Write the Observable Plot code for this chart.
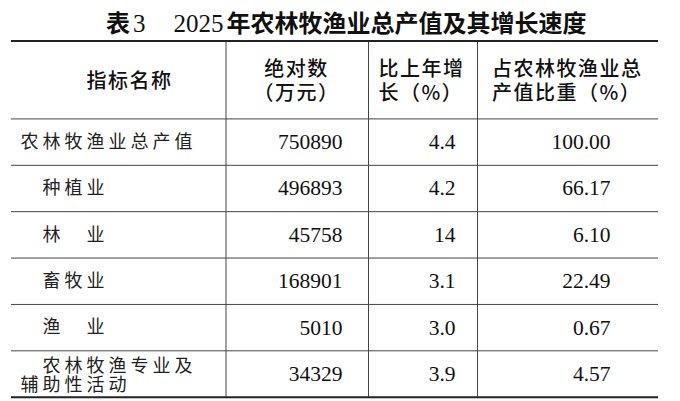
<!DOCTYPE html>
<html><head><meta charset="utf-8">
<script src="https://cdn.jsdelivr.net/npm/d3@7"></script>
<script src="https://cdn.jsdelivr.net/npm/@observablehq/plot@0.6"></script>
<style>
body{margin:0;background:#fff;width:680px;height:401px;overflow:hidden}
#title{height:38px;padding-left:106px;white-space:nowrap;font-family:"Noto Sans CJK SC";font-weight:700;font-size:24px;line-height:44px;color:#111}
#title .n{font-family:"Liberation Serif";font-weight:400;font-size:25px}
</style></head><body>
<div id="title"><span>表</span><span class="n" style="margin-left:3px">3</span><span class="n" style="margin-left:28px">2025</span><span style="margin-left:3px">年农林牧渔业总产值及其增长速度</span></div>
<div id="chart"></div>
<script>
// ---- data ----
const headers = ["指标名称", "绝对数\n（万元）", "比上年增\n长（%）", "占农林牧渔业总\n产值比重（%）"];
const names = ["农林牧渔业总产值", "种植业", "林　业", "畜牧业", "渔　业", "农林牧渔专业及\n辅助性活动"];
const absolute = [750890, 496893, 45758, 168901, 5010, 34329];
const growth = [4.4, 4.2, 14, 3.1, 3.0, 3.9];
const share = [100.00, 66.17, 6.10, 22.49, 0.67, 4.57];
const indent = [0, 1, 1, 1, 1, 1];

// ---- layout ----
const colEdges = [11, 225.5, 368, 477, 658];
const headerUnits = 1.68;
const headerX = [129, 296, 378, 491.5];
const headerAnchor = ["middle", "middle", "start", "start"];
const numRight = [342, 455, 610];

const headerCells = headers.map((h, i) => ({i, text: h, anchor: headerAnchor[i]}));
const rows = names.map((n, i) => ({i, name: n, absolute: absolute[i], growth: growth[i], share: share[i], indent: indent[i]}));
const labelLines = [];
rows.forEach(r => {
  const parts = r.name.split("\n");
  parts.forEach((p, k) => labelLines.push({i: r.i, text: p, k, n: parts.length, indent: k === 0 ? r.indent : 0}));
});
const single = labelLines.filter(d => d.n === 1);
const first = labelLines.filter(d => d.n > 1 && d.k === 0);
const second = labelLines.filter(d => d.n > 1 && d.k === 1);

const cjk = "Noto Sans CJK SC";
const serif = "Liberation Serif";
const labelX = d => 20 + d.indent * 22;
const rowY = d => d.i + 0.5;

const headerOpts = {
  x: d => headerX[d.i], y: () => -headerUnits / 2, text: "text",
  lineAnchor: "middle", lineHeight: 1.2,
  fontFamily: cjk, fontSize: 20, fontWeight: 500, fill: "#111", className: "hdr"
};
const labelOpts = {x: labelX, y: rowY, text: "text", textAnchor: "start", lineAnchor: "middle", fontFamily: cjk, fontSize: 18, fill: "#222", className: "lbl"};
const numOpts = {y: rowY, textAnchor: "end", lineAnchor: "middle", fontFamily: serif, fontSize: 21.5, fill: "#111"};

const plot = Plot.plot({
  width: 680,
  height: 363,
  margin: 0,
  axis: null,
  x: {type: "identity"},
  y: {type: "linear", domain: [-headerUnits, names.length], range: [2.5, 358.7]},
  style: {background: "white", color: "#111"},
  marks: [
    Plot.ruleY(d3.range(0, names.length), {x1: colEdges[0], x2: colEdges[4], stroke: "#444", strokeWidth: 1}),
    Plot.ruleX(colEdges.slice(1, 4), {y1: -headerUnits, y2: names.length, stroke: "#444", strokeWidth: 1}),
    Plot.ruleY([-headerUnits, names.length], {x1: colEdges[0], x2: colEdges[4], stroke: "#222", strokeWidth: 2}),
    Plot.text(headerCells.filter(d => d.anchor === "middle"), {...headerOpts, textAnchor: "middle"}),
    Plot.text(headerCells.filter(d => d.anchor === "start"), {...headerOpts, textAnchor: "start"}),
    Plot.text(single, labelOpts),
    Plot.text(first, {...labelOpts, dy: -8}),
    Plot.text(second, {...labelOpts, dy: 11}),
    Plot.text(rows, {...numOpts, x: () => numRight[0], text: d => String(d.absolute)}),
    Plot.text(rows, {...numOpts, x: () => numRight[1], text: d => d.growth >= 10 ? String(d.growth) : d.growth.toFixed(1)}),
    Plot.text(rows, {...numOpts, x: () => numRight[2], text: d => d.share.toFixed(2)})
  ]
});
// letter spacing applied to the text groups in mark order
const groups = d3.select(plot).selectAll("g[aria-label='text']").nodes();
groups.forEach((g, k) => {
  if (k < 2) g.setAttribute("letter-spacing", "1.5");
  else if (k < 5) g.setAttribute("letter-spacing", "4");
});
document.getElementById("chart").appendChild(plot);
</script>
</body></html>
